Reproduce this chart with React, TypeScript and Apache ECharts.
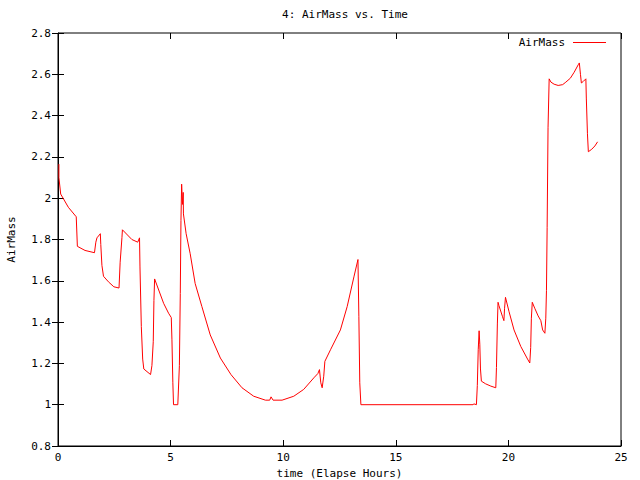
import React, { useEffect, useRef } from "react";
import * as echarts from "echarts";

const title = "4: AirMass vs. Time";
const xName = "time (Elapse Hours)";
const yName = "AirMass";
const seriesName = "AirMass";

const hours = [
  0.04, 0.04, 0.12, 0.46, 0.81, 0.86, 1.2, 1.62, 1.68, 1.73, 1.88, 1.9, 1.95, 2.02, 2.24, 2.48, 2.71,
  2.76, 2.84, 2.86, 3.28, 3.54, 3.62, 3.64, 3.7, 3.76, 3.81, 4.11, 4.17, 4.23, 4.26, 4.29, 4.69, 4.91,
  5.03, 5.06, 5.1, 5.13, 5.32, 5.39, 5.43, 5.46, 5.49, 5.53, 5.56, 5.57, 5.69, 5.87, 6.09, 6.39, 6.76,
  7.21, 7.68, 8.17, 8.69, 9.21, 9.4, 9.46, 9.55, 9.95, 10.47, 10.91, 11.36, 11.54, 11.61, 11.67, 11.73,
  11.8, 11.85, 12.1, 12.54, 12.84, 13.14, 13.32, 13.36, 13.4, 13.45, 18.43, 18.47, 18.58, 18.62, 18.66,
  18.7, 18.73, 18.76, 18.8, 18.99, 19.22, 19.44, 19.47, 19.51, 19.54, 19.58, 19.74, 19.8, 19.83, 19.87,
  20.03, 20.25, 20.55, 20.85, 20.95, 20.99, 21.02, 21.06, 21.17, 21.32, 21.44, 21.52, 21.62, 21.66,
  21.69, 21.72, 21.76, 21.81, 21.89, 22.03, 22.21, 22.41, 22.55, 22.75, 22.92, 23.1, 23.15, 23.2, 23.24,
  23.33, 23.44, 23.46, 23.51, 23.55, 23.7, 23.84, 23.96
];

const airmass = [
  2.165, 2.1, 2.02, 1.956, 1.91, 1.767, 1.747, 1.736, 1.787, 1.808, 1.828, 1.776, 1.675, 1.622, 1.595,
  1.571, 1.565, 1.69, 1.81, 1.847, 1.8, 1.787, 1.808, 1.667, 1.378, 1.221, 1.173, 1.146, 1.189, 1.305,
  1.505, 1.609, 1.491, 1.443, 1.422, 1.314, 1.106, 1.0, 1.0, 1.189, 1.539, 1.892, 2.068, 1.97, 2.028,
  1.924, 1.828, 1.731, 1.587, 1.475, 1.338, 1.226, 1.146, 1.082, 1.041, 1.022, 1.022, 1.038, 1.022,
  1.022, 1.041, 1.074, 1.13, 1.151, 1.17, 1.106, 1.082, 1.138, 1.21, 1.266, 1.362, 1.475, 1.619, 1.703,
  1.426, 1.106, 1.0, 1.0, 1.004, 1.0, 1.093, 1.266, 1.358, 1.293, 1.173, 1.114, 1.101, 1.09, 1.082,
  1.18, 1.391, 1.496, 1.48, 1.426, 1.407, 1.467, 1.52, 1.45, 1.362, 1.282, 1.221, 1.202, 1.277, 1.419,
  1.496, 1.467, 1.43, 1.407, 1.362, 1.346, 1.419, 1.552, 1.857, 2.341, 2.578, 2.562, 2.552, 2.546, 2.55,
  2.562, 2.581, 2.61, 2.646, 2.655, 2.6, 2.558, 2.566, 2.578, 2.485, 2.312, 2.225, 2.237, 2.253, 2.273
];

const FONT = "DejaVu Sans Mono";

export default function App() {
  const ref = useRef<HTMLDivElement>(null);
  useEffect(() => {
    document.body.style.margin = "0";
    if (!ref.current) return;
    const chart = echarts.init(ref.current, null, { renderer: "svg" });
    const data = hours.map((h, i) => [h, airmass[i]]);
    const tickStyle = { show: true, inside: true, length: 6, lineStyle: { color: "#000", width: 1 } };
    chart.setOption({
      animation: false,
      backgroundColor: "#fff",
      textStyle: { fontFamily: FONT },
      title: {
        text: title,
        left: 340,
        textAlign: "center",
        top: 4,
        textStyle: { fontFamily: FONT, fontSize: 11, fontWeight: "normal", color: "#000" },
      },
      legend: {
        show: true,
        right: 34,
        top: 37,
        icon: "rect",
        itemWidth: 33,
        itemHeight: 1,
        itemGap: 0,
        align: "right",
        padding: 0,
        textStyle: { fontFamily: FONT, fontSize: 11, color: "#000", padding: [0, 3, 0, 0] },
        data: [seriesName],
      },
      grid: {
        left: 58,
        right: 19,
        top: 33,
        bottom: 34,
        containLabel: false,
        outerBoundsMode: "none",
        show: true,
        borderColor: "#000",
        borderWidth: 1,
        backgroundColor: "transparent",
      },
      xAxis: [
        {
          type: "value",
          min: 0,
          max: 25,
          interval: 5,
          name: xName,
          nameLocation: "middle",
          nameGap: 21,
          nameTextStyle: { fontFamily: FONT, fontSize: 11, color: "#000" },
          axisLine: { show: true, lineStyle: { color: "#000" } },
          axisTick: tickStyle,
          splitLine: { show: false },
          axisLabel: { fontFamily: FONT, fontSize: 11, color: "#000", margin: 6 },
        },
        {
          type: "value",
          position: "top",
          min: 0,
          max: 25,
          interval: 5,
          axisLine: { show: false },
          axisTick: tickStyle,
          splitLine: { show: false },
          axisLabel: { show: false },
        },
      ],
      yAxis: [
        {
          type: "value",
          min: 0.8,
          max: 2.8,
          interval: 0.2,
          name: yName,
          nameLocation: "middle",
          nameGap: 41,
          nameRotate: 90,
          nameTextStyle: { fontFamily: FONT, fontSize: 11, color: "#000" },
          axisLine: { show: true, lineStyle: { color: "#000" } },
          axisTick: tickStyle,
          splitLine: { show: false },
          axisLabel: {
            fontFamily: FONT,
            fontSize: 11,
            color: "#000",
            margin: 7,
            formatter: (v: number) => String(Math.round(v * 10) / 10),
          },
        },
        {
          type: "value",
          position: "right",
          min: 0.8,
          max: 2.8,
          interval: 0.2,
          axisLine: { show: false },
          axisTick: tickStyle,
          splitLine: { show: false },
          axisLabel: { show: false },
        },
      ],
      series: [
        {
          name: seriesName,
          type: "line",
          data,
          showSymbol: false,
          symbol: "none",
          lineStyle: { color: "#ff0000", width: 1 },
          itemStyle: { color: "#ff0000" },
        },
      ],
    });
    return () => chart.dispose();
  }, []);
  return <div ref={ref} style={{ width: 640, height: 480, position: "absolute", left: 0, top: 0 }} />;
}
